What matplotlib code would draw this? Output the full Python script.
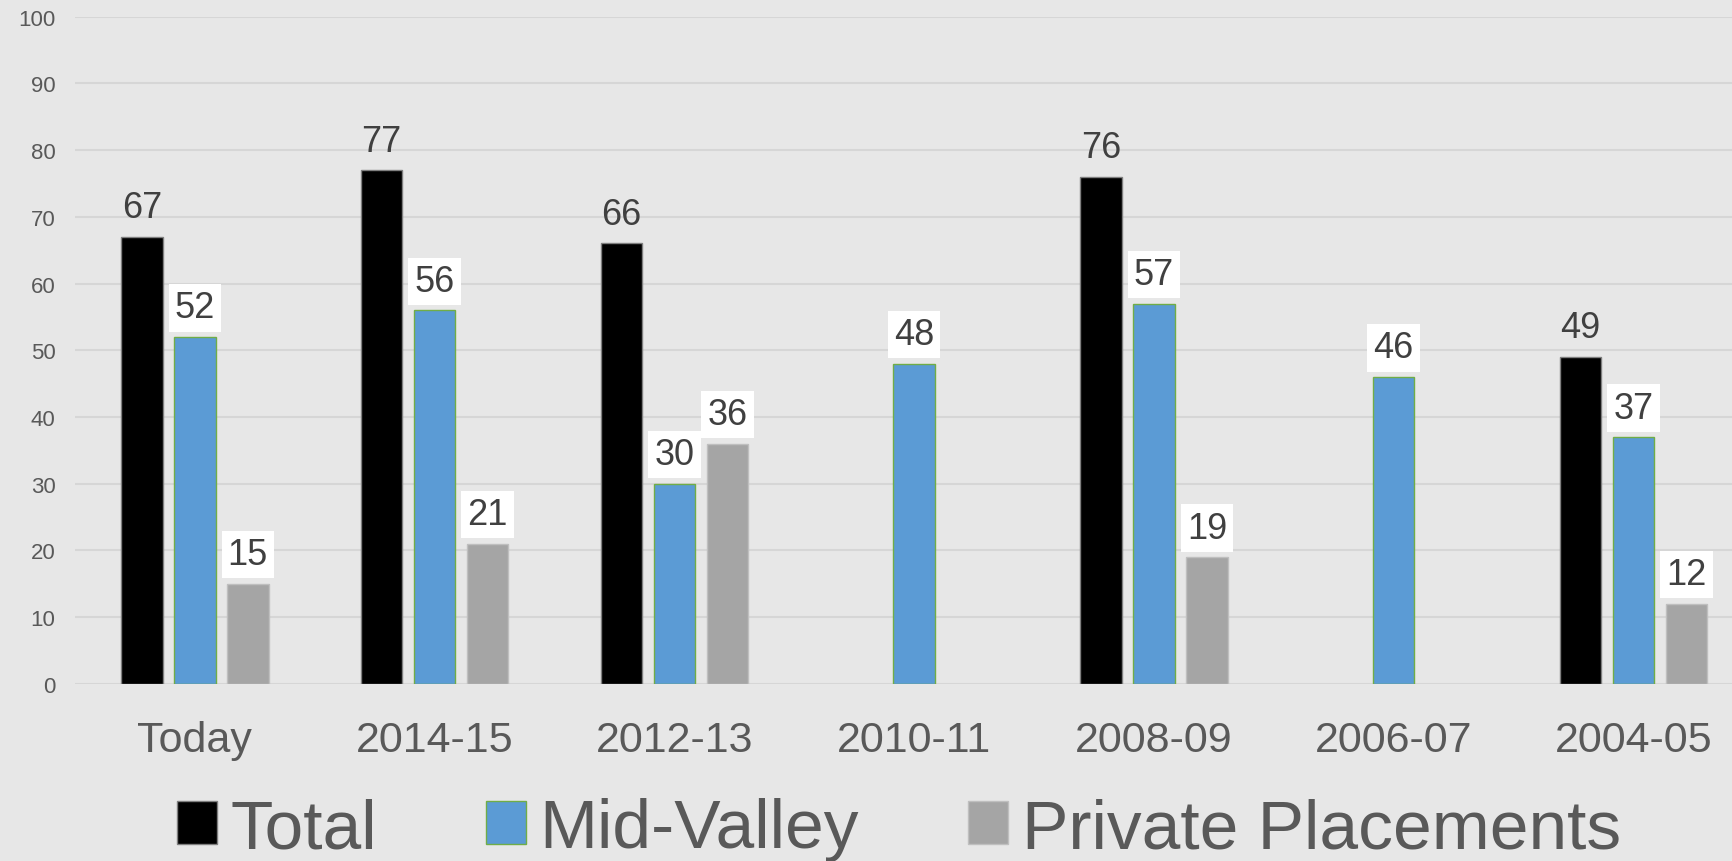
import numpy as np
import matplotlib
matplotlib.use("Agg")
import matplotlib.pyplot as plt
from matplotlib.patches import Patch

plt.rcParams['font.family'] = ['Liberation Sans', 'DejaVu Sans']

periods = ['Today', '2014-15', '2012-13', '2010-11', '2008-09', '2006-07', '2004-05']
total = [67, 77, 66, np.nan, 76, np.nan, 49]
mid_valley = [52, 56, 30, 48, 57, 46, 37]
private_placements = [15, 21, 36, np.nan, 19, np.nan, 12]

series = [
    ('Total', total, '#000000', '#7f7f7f', False),
    ('Mid-Valley', mid_valley, '#5b9bd5', '#70ad47', True),
    ('Private Placements', private_placements, '#a5a5a5', '#bfbfbf', True),
]

bg = '#e7e7e7'
text_grey = '#595959'
label_grey = '#404040'

fig = plt.figure(figsize=(17.32, 8.62), dpi=100, facecolor=bg)
ax = fig.add_axes([0.0433, 0.2056, 0.969, 0.7739])
ax.set_facecolor(bg)

x = np.arange(len(periods))
width = 0.173
step = 0.221

for i, (name, vals, color, edge, boxed) in enumerate(series):
    pos = x + (i - 1) * step
    vals = np.array(vals, dtype=float)
    ax.bar(pos, vals, width=width, color=color, edgecolor=edge, linewidth=1.0, zorder=3)
    for xp, v in zip(pos, vals):
        if np.isnan(v):
            continue
        kw = {}
        if boxed:
            kw['bbox'] = dict(boxstyle='square,pad=0.17', facecolor='white', edgecolor='none')
        ax.annotate(f'{v:.0f}', (xp, v), xytext=(0, 14), textcoords='offset points',
                    ha='center', va='baseline', fontsize=26, color=label_grey,
                    zorder=4, **kw)

ax.set_xlim(-0.5, len(periods) - 0.5)
ax.set_ylim(0, 100)
ax.set_yticks(range(0, 101, 10))
ax.set_xticks(x)
ax.set_xticklabels(periods)
ax.tick_params(axis='y', length=0, pad=14, labelsize=16, labelcolor=text_grey)
ax.tick_params(axis='x', length=0, pad=26, labelsize=31, labelcolor=text_grey)
ax.grid(axis='y', color='#d6d6d6', linewidth=1.5, zorder=0)
ax.set_axisbelow(True)
for s in ax.spines.values():
    s.set_visible(False)

handles = [Patch(facecolor=c, edgecolor=e, linewidth=1.0, label=n) for n, _, c, e, _ in series]
fig.legend(handles=handles, loc='center', bbox_to_anchor=(0.519, 0.037), ncol=3,
           frameon=False, fontsize=50, labelcolor=text_grey,
           handlelength=0.57, handleheight=0.57, handletextpad=0.2,
           columnspacing=1.57, borderpad=0)

fig.savefig('out.png', dpi=100, facecolor=bg)
